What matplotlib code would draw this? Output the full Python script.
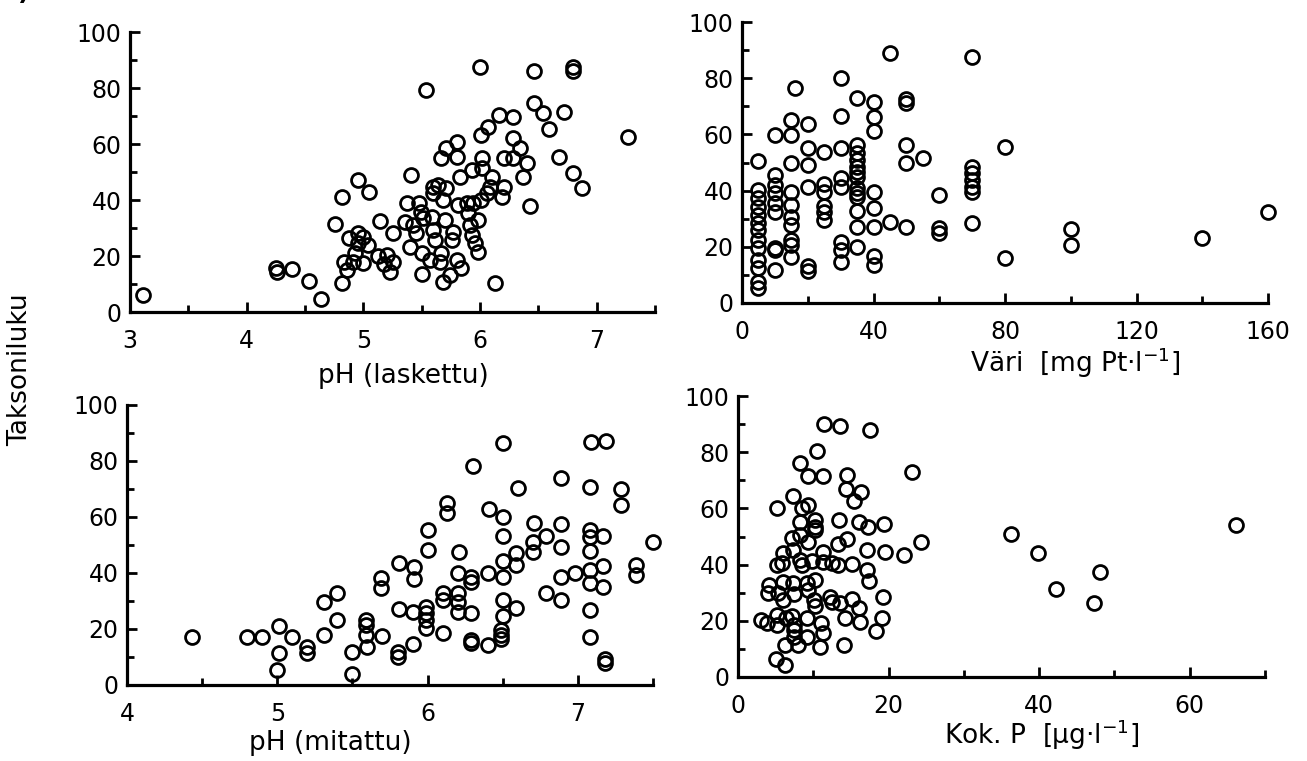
import matplotlib.pyplot as plt
from matplotlib.ticker import MultipleLocator

# pH (laskettu) vs taksoniluku
ph_calc = [3.11, 4.25, 4.26, 4.39, 4.53, 4.64, 4.76, 4.82, 4.82, 4.83, 4.86, 4.95, 5.05,
           4.88, 4.95, 5.0, 4.95, 5.04, 4.91, 5.0, 4.93, 5.14, 5.25, 5.13, 5.2, 5.18, 5.25,
           5.23, 5.41, 5.37, 5.48, 5.49, 5.36, 5.43, 5.51, 5.54, 5.45, 5.40, 5.50, 5.57,
           5.50, 5.67, 5.66, 5.59, 5.60, 5.61, 5.70, 5.77, 5.76, 5.68, 5.74, 5.80, 5.84,
           5.60, 5.64, 5.71, 5.60, 5.68, 5.67, 5.71, 5.80, 5.80, 5.83, 5.93, 6.02, 6.02,
           6.0, 5.81, 5.89, 5.94, 5.90, 5.91, 5.93, 5.96, 5.98, 5.98, 6.01, 6.06, 6.09,
           6.10, 6.19, 6.21, 6.01, 6.07, 6.16, 6.28, 6.13, 6.21, 6.28, 6.28, 6.34, 6.40,
           6.37, 6.43, 6.46, 6.46, 6.54, 6.59, 6.72, 6.68, 6.80, 6.80, 6.80, 6.87, 7.27]
taxa_calc = [6, 15.7, 14.3, 15.4, 11, 4.6, 31.4, 41, 10.4, 18, 15, 47, 43,
             26.4, 28.2, 26.8, 24.6, 24, 18, 17.5, 21, 32.5, 28.2, 20, 20.4, 17, 18,
             14.3, 49, 39, 39, 35.7, 32, 31, 33.6, 79.3, 28.2, 23.2, 21, 18.6,
             13.6, 21, 18, 34, 29.3, 25.7, 33, 28.6, 25.7, 10.7, 13.2, 18.6, 15.7,
             44.6, 45.4, 44.3, 42.5, 40, 55, 58.6, 60.7, 55.4, 48.2, 50.7, 55, 51.4,
             87.5, 38.2, 39, 39, 35.4, 31, 27.5, 24.6, 21.4, 33, 40, 42.5, 44.6,
             48.2, 41, 44.6, 63.2, 66, 70.4, 69.6, 10.4, 55, 55, 62, 58.6, 53.2,
             48.2, 38, 86, 74.6, 71, 65.4, 71.4, 55.4, 87.5, 86, 49.6, 44.3, 62.5]

# Väri vs taksoniluku
color_mg = [5] * 13 + [10] * 9 + [16] + [15] * 10 + [20] * 6 + [25] * 6 + [30] * 8 \
    + [35] * 13 + [40] * 8 + [45, 45] + [50] * 5 + [55] + [60] * 3 + [70] * 7 \
    + [80, 80, 100, 100, 140, 160]
taxa_color = [50.5, 40.2, 37.4, 34.2, 31.3, 28.5, 26, 22.4, 19.6, 15.3, 12.5, 7.5, 5.3,
              45.5, 42, 39, 35.6, 32.4, 19.6, 18.9, 11.7, 59.8,
              76.5,
              65.1, 59.8, 49.8, 39.5, 34.9, 30.6, 27.8, 22.4, 20.6, 16.4,
              63.7, 55.2, 49.1, 41.3, 13.2, 11.4,
              53.7, 42.3, 39.5, 34.5, 32.4, 29.5,
              80, 66.5, 55.2, 44.5, 41.3, 21.7, 18.9, 14.6,
              73, 56.2, 53.4, 50.9, 48.4, 46.6, 44.8, 40.9, 39.1, 37.7, 32.7, 27, 19.9,
              71.5, 66.2, 61.2, 39.5, 33.8, 27, 16.7, 13.5,
              89, 28.8,
              72.6, 71.2, 56.2, 49.8, 27,
              51.6,
              38.4, 26.7, 24.9,
              87.5, 48.4, 46.3, 43.8, 41.3, 39.5, 28.5,
              55.5, 16, 26.3, 20.6, 23.1, 32.4]

# pH (mitattu) vs taksoniluku
ph_meas = [4.43, 4.8, 4.9, 5.01, 5.01, 5.0, 5.1, 5.2, 5.2, 5.31, 5.31, 5.4, 5.4, 5.5, 5.5,
           5.59, 5.59, 5.59, 5.6, 5.69, 5.69, 5.7, 5.81, 5.81, 5.8, 5.8,
           5.91, 5.91, 5.9, 5.9, 6.0, 6.0, 5.99, 5.99, 5.99, 5.99, 6.13, 6.13, 6.21, 6.2,
           6.29, 6.29, 6.1, 6.1, 6.2, 6.2, 6.2, 6.1, 6.29, 6.29, 6.29, 6.3, 6.4, 6.4, 6.41,
           6.5, 6.5, 6.5, 6.5, 6.5, 6.5, 6.5, 6.49, 6.49, 6.49, 6.59, 6.59, 6.59, 6.6,
           6.7, 6.7, 6.71, 6.79, 6.79, 6.89, 6.89, 6.89, 6.89, 6.98, 6.89, 7.09, 7.19,
           7.08, 7.08, 7.08, 7.08, 7.17, 7.08, 7.08, 7.17, 7.17, 7.08, 7.08, 7.18, 7.18,
           7.29, 7.29, 7.39, 7.39, 7.5]
taxa_meas = [17, 17, 17, 21, 11.4, 5.4, 17, 13.6, 11.4, 29.6, 18, 33, 23.2, 11.8, 3.9,
             23.2, 21.4, 18, 13.6, 38.2, 34.6, 17.5, 43.6, 27, 11.8, 10,
             42, 38, 26, 14.6, 55.4, 48.2, 28, 25.7, 23.2, 20.4, 65, 61.4, 47.5, 40,
             38.6, 36.8, 33, 30.4, 33, 29.6, 26, 18.6, 25.7, 16, 15, 78.2, 40, 14.3, 63,
             86.4, 60, 53.2, 44.3, 38.6, 30.4, 24.6, 19.6, 18, 16.4, 27.5, 47, 43, 70.4,
             51, 47.5, 58, 53.2, 33, 57.5, 49.3, 38.6, 30.4, 40, 74, 86.8, 87.1,
             70.7, 55.4, 53, 48, 53.2, 41, 36.4, 42.5, 35, 26.8, 17, 9.3, 8,
             70, 64.3, 43, 39.3, 51]

# Kok. P vs taksoniluku
tot_p = [11.4, 13.5, 17.5, 10.5, 8.2, 9.3, 11.3, 14.5, 23.1, 14.3, 16.3, 15.4, 7.3, 5.2,
         8.5, 9.3, 8.2, 10.2, 10.2, 10.2, 13.4, 16.1, 17.3, 19.4, 24.3, 7.2, 8.2, 9.3,
         13.3, 14.5, 17.1, 19.5, 22, 6, 7.3, 5.2, 5.8, 8.2, 8.5, 9.8, 11.3, 11.3, 12.5,
         13.3, 15.1, 17.1, 17.4, 4.1, 4, 6, 7.3, 5.3, 6, 7.4, 9.2, 10.2, 9.3, 10.1, 10.2,
         12.2, 12.5, 13.5, 15.1, 16.1, 19.3, 3.1, 3.9, 5.2, 5.2, 6.4, 7.2, 7.4, 7.4, 7.4,
         9.2, 11, 11.3, 9.2, 8, 6.2, 10.9, 14.2, 16.2, 19.1, 18.3, 14.1, 5, 6.2,
         36.3, 39.8, 42.2, 48.1, 47.3, 66.1]
taxa_p = [90, 89.3, 87.9, 80.4, 76.2, 71.5, 71.5, 71.9, 73, 66.9, 65.8, 62.6, 64.4, 60.1,
          60.1, 61.2, 55.2, 55.9, 53.4, 52.3, 55.9, 55.2, 53.4, 54.4, 48, 49.5, 50.5, 48,
          47.3, 49.1, 45.2, 44.5, 43.4, 44.1, 45.2, 39.9, 40.6, 41.6, 39.9, 41.3, 44.5,
          40.9, 40.6, 39.9, 40.2, 38.1, 34.2, 32.7, 29.9, 33.8, 33.5, 29.9, 27.4, 29.5,
          33.5, 34.5, 31, 27.4, 25.3, 28.5, 26.7, 26.3, 27.8, 24.6, 28.5, 20.3, 19.2,
          18.5, 22, 21, 21.7, 18.5, 16.7, 14.2, 21, 19.2, 15.7, 14.2, 11.4, 11.4, 10.7,
          21, 19.6, 21, 16.4, 11.4, 6.4, 4.3,
          50.9, 44.1, 31.3, 37.4, 26.3, 54.1]

W, H = 1307, 761
fig = plt.figure(figsize=(W / 100, H / 100), dpi=100)
plt.rcParams['font.family'] = 'DejaVu Sans'


def box(x0, x1, y0, y1):
    # pixel box -> figure fraction [left, bottom, width, height]
    return [x0 / W, 1 - y1 / H, (x1 - x0) / W, (y1 - y0) / H]


def panel(rect, x, y, xlim, major_x, minor_x):
    ax = fig.add_axes(rect)
    ax.plot(x, y, 'o', mfc='none', mec='black', ms=10, mew=2.0, clip_on=False)
    ax.set_xlim(*xlim)
    ax.set_ylim(0, 100)
    for s in ['top', 'right']:
        ax.spines[s].set_visible(False)
    for s in ['left', 'bottom']:
        ax.spines[s].set_linewidth(2.3)
    ax.xaxis.set_major_locator(MultipleLocator(major_x))
    ax.xaxis.set_minor_locator(MultipleLocator(minor_x))
    ax.yaxis.set_major_locator(MultipleLocator(20))
    ax.yaxis.set_minor_locator(MultipleLocator(10))
    ax.tick_params(which='both', direction='in', width=2, labelsize=17)
    ax.tick_params(axis='x', pad=12)
    ax.tick_params(axis='y', pad=6)
    ax.tick_params(which='major', length=7)
    ax.tick_params(which='minor', length=5)
    return ax


panel(box(130, 655, 32, 312), ph_calc, taxa_calc, (3, 7.5), 1, 0.5)
panel(box(742, 1268, 22, 303), color_mg, taxa_color, (0, 160), 40, 20)
panel(box(127, 653, 405, 685), ph_meas, taxa_meas, (4, 7.5), 1, 0.5)
panel(box(738, 1265, 396, 677), tot_p, taxa_p, (0, 70), 20, 10)


def label(px, py, s, **kw):
    fig.text(px / W, 1 - py / H, s, ha='center', va='center', fontsize=19, **kw)


label(403, 376, 'pH (laskettu)')
label(1075, 363, 'Väri  [mg Pt·l$^{-1}$]')
label(330, 743, 'pH (mitattu)')
label(1042, 735, 'Kok. P  [µg·l$^{-1}$]')
label(20, 370, 'Taksoniluku', rotation=90)
fig.text(0.0, 1 - 5 / H, 'B).', fontsize=18, fontweight='bold', ha='left', va='bottom')

fig.savefig('out.png', dpi=100)
